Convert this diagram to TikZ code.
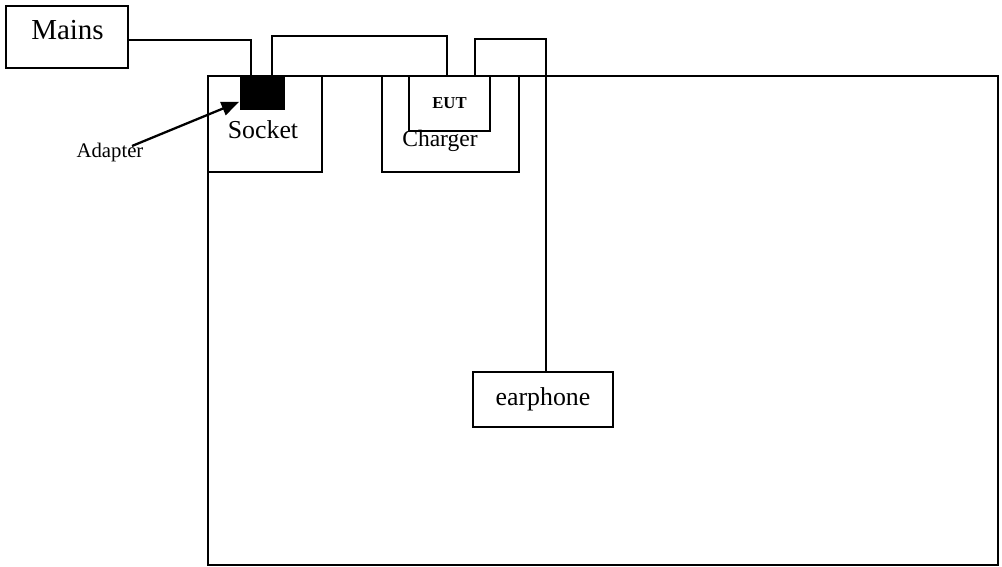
\documentclass[tikz,border=0pt]{standalone}
\usepackage{fontspec}
\setmainfont{Liberation Serif}
\usetikzlibrary{arrows.meta,calc}
\tikzset{box/.style={draw,rectangle,inner sep=0pt}}
\newcommand{\lbl}[1]{\fontsize{#1}{#1}\selectfont}

\begin{document}
\begin{tikzpicture}[x=0.02cm,y=-0.02cm,line width=1pt]
\useasboundingbox (0,0) rectangle (1002,567);
\node[box,minimum width=15.8cm,minimum height=9.78cm] (room) at (603,320.5) {};
\node[box,minimum width=2.44cm,minimum height=1.24cm] (mains) at (67,37) {};
\node (mainstxt) at (67.5,30) {\lbl{16.5}Mains};
\node[box,minimum width=2.28cm,minimum height=1.92cm] (socket) at (265,124) {};
\node[box,fill=black,minimum width=0.86cm,minimum height=0.66cm] (adapter) at (262.5,92.5) {};
\node (sockettxt) at (263,130) {\lbl{14.7}Socket};
\node[box,minimum width=2.74cm,minimum height=1.92cm] (charger) at (450.5,124) {};
\node[box,fill=white,minimum width=1.62cm,minimum height=1.1cm] (eut) at (449.5,103.5) {\lbl{9.5}\bfseries EUT};
\node (chargertxt) at (440,141) {\lbl{13.4}Charger};
\node[box,minimum width=2.8cm,minimum height=1.1cm] (earphone) at (543,399.5) {\lbl{14.7}earphone};
\node (adaptertxt) at (110,153) {\lbl{11.8}Adapter};
% wiring
\draw ($(mains.east)+(0,3)$) -| ($(adapter.north west)+(11,0)$);
\draw ($(adapter.north east)+(-13,0)$) -- ++(0,-39) -| ($(eut.north)+(-2.5,0)$);
\draw ($(eut.north east)+(-16,0)$) -- ++(0,-36) -| ($(earphone.north)+(3,0)$);
\draw[-{Triangle[length=10pt,width=8pt]},line width=1.3pt] ($(adaptertxt.center)+(22,-7)$) -- ($(adapter.south west)+(-1,-8)$);
\end{tikzpicture}
\end{document}
